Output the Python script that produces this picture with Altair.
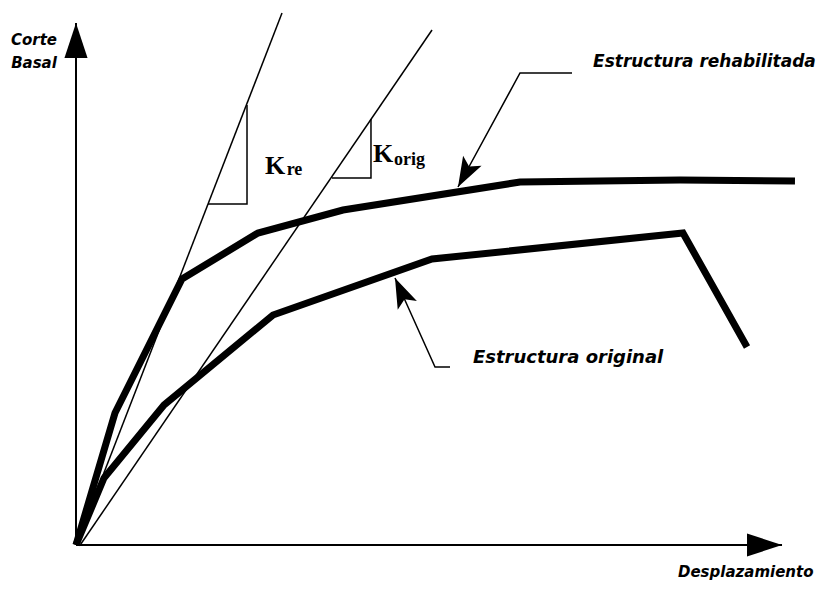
import math
import altair as alt
import pandas as pd

# ---- data (displacement units, base-shear units) ----
rehab_x = [0, 5.57, 15.14, 26.0, 38.14, 63.43, 86.29, 102.71]
rehab_y = [0, 26.4, 53.2, 62.4, 67.0, 72.6, 73.0, 72.8]
orig_x = [0, 4.0, 12.57, 28.14, 50.86, 86.71, 95.86]
orig_y = [0, 13.4, 28.0, 46.0, 57.2, 62.4, 39.6]

kre_x = [0, 29.43]
kre_y = [0, 106.4]
korig_x = [0.6, 50.86]
korig_y = [0, 103.0]

kre_tri_x = [24.43, 24.43, 18.86]
kre_tri_y = [88.0, 68.2, 68.2]
korig_tri_x = [42.14, 42.14, 36.57]
korig_tri_y = [85.2, 73.4, 73.4]

lead_re_x = [70.86, 63.43, 54.57]
lead_re_y = [94.4, 94.4, 71.6]
lead_or_x = [53.43, 51.29, 45.57]
lead_or_y = [35.6, 35.6, 53.4]

xaxis_x = [0, 100.86]
xaxis_y = [0, 0]
yaxis_x = [0, 0]
yaxis_y = [0, 104.4]

X_DOM = [-68 / 7, 107.0]
Y_DOM = [-7.4, 107.4]
W, H = 817, 574
PX = W / (X_DOM[1] - X_DOM[0])
PY = H / (Y_DOM[1] - Y_DOM[0])

xs = alt.Scale(domain=X_DOM, nice=False, zero=False)
ys = alt.Scale(domain=Y_DOM, nice=False, zero=False)


def path_df(name, xv, yv):
    return pd.DataFrame({"x": xv, "y": yv, "s": name, "o": list(range(len(xv)))})


def lines(df, width):
    return alt.Chart(df).mark_line(color="black", strokeWidth=width, strokeJoin="miter",
                                   strokeCap="butt", clip=False).encode(
        x=alt.X("x:Q", scale=xs, axis=None),
        y=alt.Y("y:Q", scale=ys, axis=None),
        detail="s:N",
        order="o:Q",
    )


thick = pd.concat([path_df("rehab", rehab_x, rehab_y), path_df("orig", orig_x, orig_y)])
thin = pd.concat([
    path_df("kre", kre_x, kre_y), path_df("korig", korig_x, korig_y),
    path_df("kret", kre_tri_x, kre_tri_y), path_df("korigt", korig_tri_x, korig_tri_y),
    path_df("lre", lead_re_x, lead_re_y), path_df("lor", lead_or_x, lead_or_y),
])
axes = pd.concat([path_df("xa", xaxis_x, xaxis_y), path_df("ya", yaxis_x, yaxis_y)])


def head_angle(xv, yv):
    dx = (xv[-1] - xv[-2]) * PX
    dy = -(yv[-1] - yv[-2]) * PY
    return math.degrees(math.atan2(dx, -dy)) % 360


axis_heads = pd.DataFrame({
    "x": [xaxis_x[-1], yaxis_x[-1]],
    "y": [xaxis_y[-1], yaxis_y[-1]],
    "angle": [head_angle(xaxis_x, xaxis_y), head_angle(yaxis_x, yaxis_y)],
})
lead_heads = pd.DataFrame({
    "x": [lead_re_x[-1], lead_or_x[-1]],
    "y": [lead_re_y[-1], lead_or_y[-1]],
    "angle": [head_angle(lead_re_x, lead_re_y), head_angle(lead_or_x, lead_or_y)],
})


def heads(df, shape, size):
    return alt.Chart(df).mark_point(filled=True, shape=shape, size=size, color="black",
                                    opacity=1, strokeWidth=0, clip=False).encode(
        x=alt.X("x:Q", scale=xs, axis=None),
        y=alt.Y("y:Q", scale=ys, axis=None),
        angle=alt.Angle("angle:Q", scale=None),
    )


def texts(txt, xv, yv, size, font, align="left", style="italic"):
    df = pd.DataFrame({"t": txt, "x": xv, "y": yv})
    return alt.Chart(df).mark_text(font=font, fontSize=size, fontWeight="bold", fontStyle=style,
                                   align=align, baseline="alphabetic", color="black").encode(
        x=alt.X("x:Q", scale=xs, axis=None),
        y=alt.Y("y:Q", scale=ys, axis=None),
        text="t:N",
    )


chart = alt.layer(
    lines(axes, 2),
    lines(thin, 1.5),
    lines(thick, 7),
    heads(axis_heads, "M0,0 L0.66,2 L-0.66,2 Z", 1225),
    heads(lead_heads, "M0,0 L0.7,2 L0,1.55 L-0.7,2 Z", 900),
    texts(["Corte", "Basal"], [-6, -6], [100, 95.4], 15, "DejaVu Sans", align="center"),
    texts(["Desplazamiento"], [86], [-6.3], 15, "DejaVu Sans"),
    texts(["Estructura rehabilitada"], [73.86], [95.6], 17, "DejaVu Sans"),
    texts(["Estructura original"], [56.71], [36.4], 18, "DejaVu Sans"),
    texts(["K", "K"], [27, 42.43], [74.2, 76.6], 26, "Liberation Serif", style="normal"),
    texts(["re", "orig"], [30.1, 45.43], [74.0, 76.0], 18, "Liberation Serif", style="normal"),
).properties(width=W, height=H, padding=0, autosize="none").configure_view(stroke=None)

chart.save("out.html", embed_options={"renderer": "svg", "actions": False})
